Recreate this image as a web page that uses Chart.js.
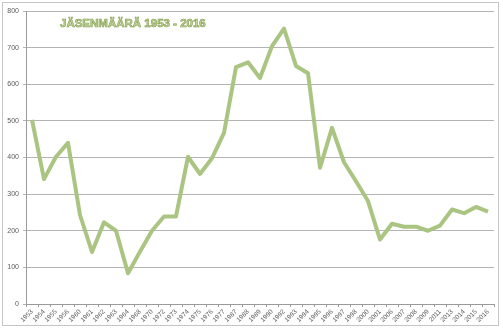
<!DOCTYPE html>
<html>
<head>
<meta charset="utf-8">
<script src="https://cdn.jsdelivr.net/npm/chart.js@4/dist/chart.umd.min.js"></script>
<style>
  html, body { margin: 0; padding: 0; background: #fff; }
  #wrap { position: relative; width: 503px; height: 330px; }
  #frame { position: absolute; left: 2px; top: 2px; width: 497px; height: 324px; border: 1px solid #c6c6c6; box-sizing: border-box; pointer-events: none; }
  #title { position: absolute; left: 60px; top: 17px; font-family: "Liberation Sans", Arial, sans-serif; font-weight: bold; font-size: 11.5px; color: #c3d69b; -webkit-text-stroke: 0.6px #7f9a4a; white-space: nowrap; letter-spacing: 0px; }
  canvas { position: absolute; left: 0; top: 0; }
</style>
</head>
<body>
<div id="wrap">
  <canvas id="c" width="503" height="330"></canvas>
  <div id="frame"></div>
  <div id="title">JÄSENMÄÄRÄ 1953 - 2016</div>
</div>
<script>
const years = ["1953","1954","1955","1956","1960","1961","1962","1963","1964","1968","1970","1972","1973","1974","1975","1976","1977","1987","1988","1989","1990","1992","1993","1994","1995","1996","1997","1998","2000","2001","2006","2007","2008","2009","2011","2013","2014","2015","2016"];
const members = [503,341,402,440,243,142,223,200,84,143,200,239,239,402,355,398,467,647,660,617,704,752,650,630,372,481,387,335,281,176,219,211,211,200,214,258,248,265,252];
const yTicks = [0,100,200,300,400,500,600,700,800];

new Chart(document.getElementById('c'), {
  type: 'line',
  data: {
    labels: years,
    datasets: [{
      data: members,
      borderColor: 'rgb(170,197,130)',
      borderWidth: 4,
      pointRadius: 0,
      tension: 0,
      fill: false,
      borderJoinStyle: 'round'
    }]
  },
  options: {
    responsive: false,
    animation: false,
    devicePixelRatio: 1,
    layout: { padding: { left: 0, right: 9, top: 11, bottom: 0 } },
    plugins: { legend: { display: false }, tooltip: { enabled: false }, title: { display: false } },
    scales: {
      x: {
        offset: true,
        grid: { drawOnChartArea: false, drawTicks: true, tickLength: 3, color: '#9a9a9a', offset: true },
        border: { display: true, color: '#9a9a9a' },
        ticks: { maxRotation: 45, minRotation: 45, autoSkip: false, font: { family: 'Liberation Sans', size: 6.5 }, color: '#595959', padding: 1 },
        afterFit: (s) => { s.height = 26; }
      },
      y: {
        min: 0, max: 800,
        afterBuildTicks: (s) => { s.ticks = yTicks.map(v => ({ value: v })); },
        grid: { color: '#b4b4b4', lineWidth: 1, tickLength: 3 },
        border: { display: true, color: '#9a9a9a' },
        ticks: { font: { family: 'Liberation Sans', size: 7 }, color: '#595959', padding: 4 },
        afterFit: (s) => { s.width = 26; }
      }
    }
  }
});
</script>
</body>
</html>
